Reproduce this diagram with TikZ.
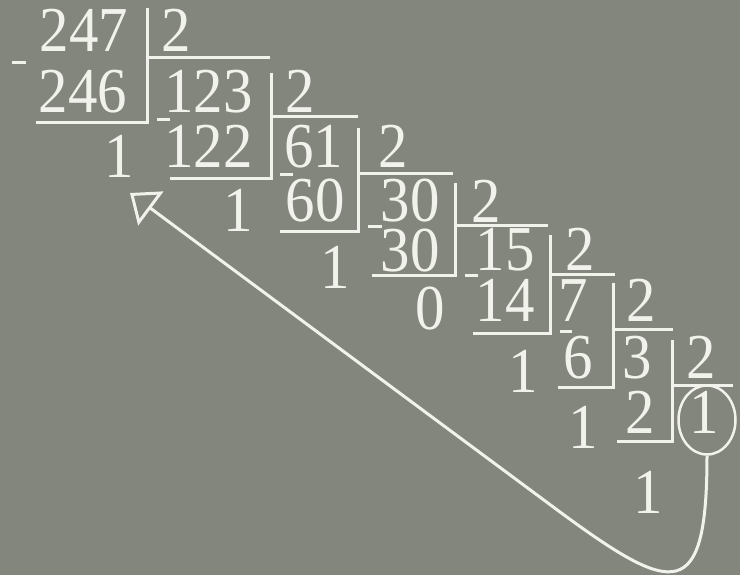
\documentclass[tikz,border=0pt]{standalone}
\usepackage{fontspec}
\setmainfont{Liberation Serif}
\usetikzlibrary{arrows.meta,shapes.geometric}
\definecolor{board}{RGB}{130,134,124}
\definecolor{chalk}{RGB}{242,242,236}
\tikzset{
  num/.style={anchor=base, inner sep=0pt, text=chalk, font=\fontsize{64}{64}\selectfont, xscale=0.92, transform shape},
  rule/.style={draw=chalk, line width=3pt},
  ring/.style={ellipse, draw=chalk, line width=2.5pt, minimum width=57pt, minimum height=69pt, inner sep=0pt},
  back/.style={draw=chalk, line width=3pt, -{Triangle[open, length=26pt, width=42pt]}}
}

\begin{document}
\begin{tikzpicture}[x=1pt,y=-1pt]

\useasboundingbox (0,0) rectangle (740,575);
\fill[board] (0,0) rectangle (740,575);

\node[num] (a1) at (84,52) {247};
\node[num] (d1) at (176.5,52) {2};
\node[num] (s1) at (83,113) {246};
\node[num] (r1) at (119.5,178) {1};

\node[num] (a2) at (208.5,113) {123};
\node[num] (d2) at (300,113) {2};
\node[num] (s2) at (208.5,168) {122};
\node[num] (r2) at (238,232) {1};

\node[num] (a3) at (313.5,168) {61};
\node[num] (d3) at (393.5,168) {2};
\node[num] (s3) at (315,222) {60};
\node[num] (r3) at (335,288) {1};

\node[num] (a4) at (410,222) {30};
\node[num] (d4) at (486.5,223) {2};
\node[num] (s4) at (410,272) {30};
\node[num] (r4) at (430,330) {0};

\node[num] (a5) at (505,270) {15};
\node[num] (d5) at (580,270) {2};
\node[num] (s5) at (505,322) {14};
\node[num] (r5) at (523,392) {1};

\node[num] (a6) at (573.5,322) {7};
\node[num] (d6) at (641.5,322) {2};
\node[num] (s6) at (578.5,378) {6};
\node[num] (r6) at (583,448) {1};

\node[num] (a7) at (637,378) {3};
\node[num] (d7) at (701,378) {2};
\node[num] (s7) at (640,433) {2};
\node[num] (r7) at (648,513) {1};

\node[num] (q7) at (704,433) {1};
\node[ring] (last) at (707,420) {};

\draw[rule] (147,8) -- (147,123) -- (36,123);
\draw[rule] (147,58) -- (270,58);
\draw[rule] (12,63) -- (26,63);

\draw[rule] (271,73) -- (271,179) -- (170,179);
\draw[rule] (271,117) -- (358,117);
\draw[rule] (157,120) -- (170,120);

\draw[rule] (358,128) -- (358,232) -- (280,232);
\draw[rule] (358,174) -- (453,174);
\draw[rule] (280,175) -- (293,175);

\draw[rule] (455,183) -- (455,276) -- (372,276);
\draw[rule] (455,226) -- (548,226);
\draw[rule] (368,227) -- (382,227);

\draw[rule] (550,235) -- (550,333) -- (473,333);
\draw[rule] (550,275) -- (615,275);
\draw[rule] (465,276) -- (478,276);

\draw[rule] (613,283) -- (613,387) -- (558,387);
\draw[rule] (613,329) -- (673,329);
\draw[rule] (560,331) -- (572,331);

\draw[rule] (672,340) -- (672,441) -- (617,441);
\draw[rule] (672,385) -- (733,385);

\coordinate (tip) at (130,193);
\draw[back] (last.south) .. controls (707,605) and (673,595) .. (560,512) -- (tip);

\end{tikzpicture}
\end{document}
